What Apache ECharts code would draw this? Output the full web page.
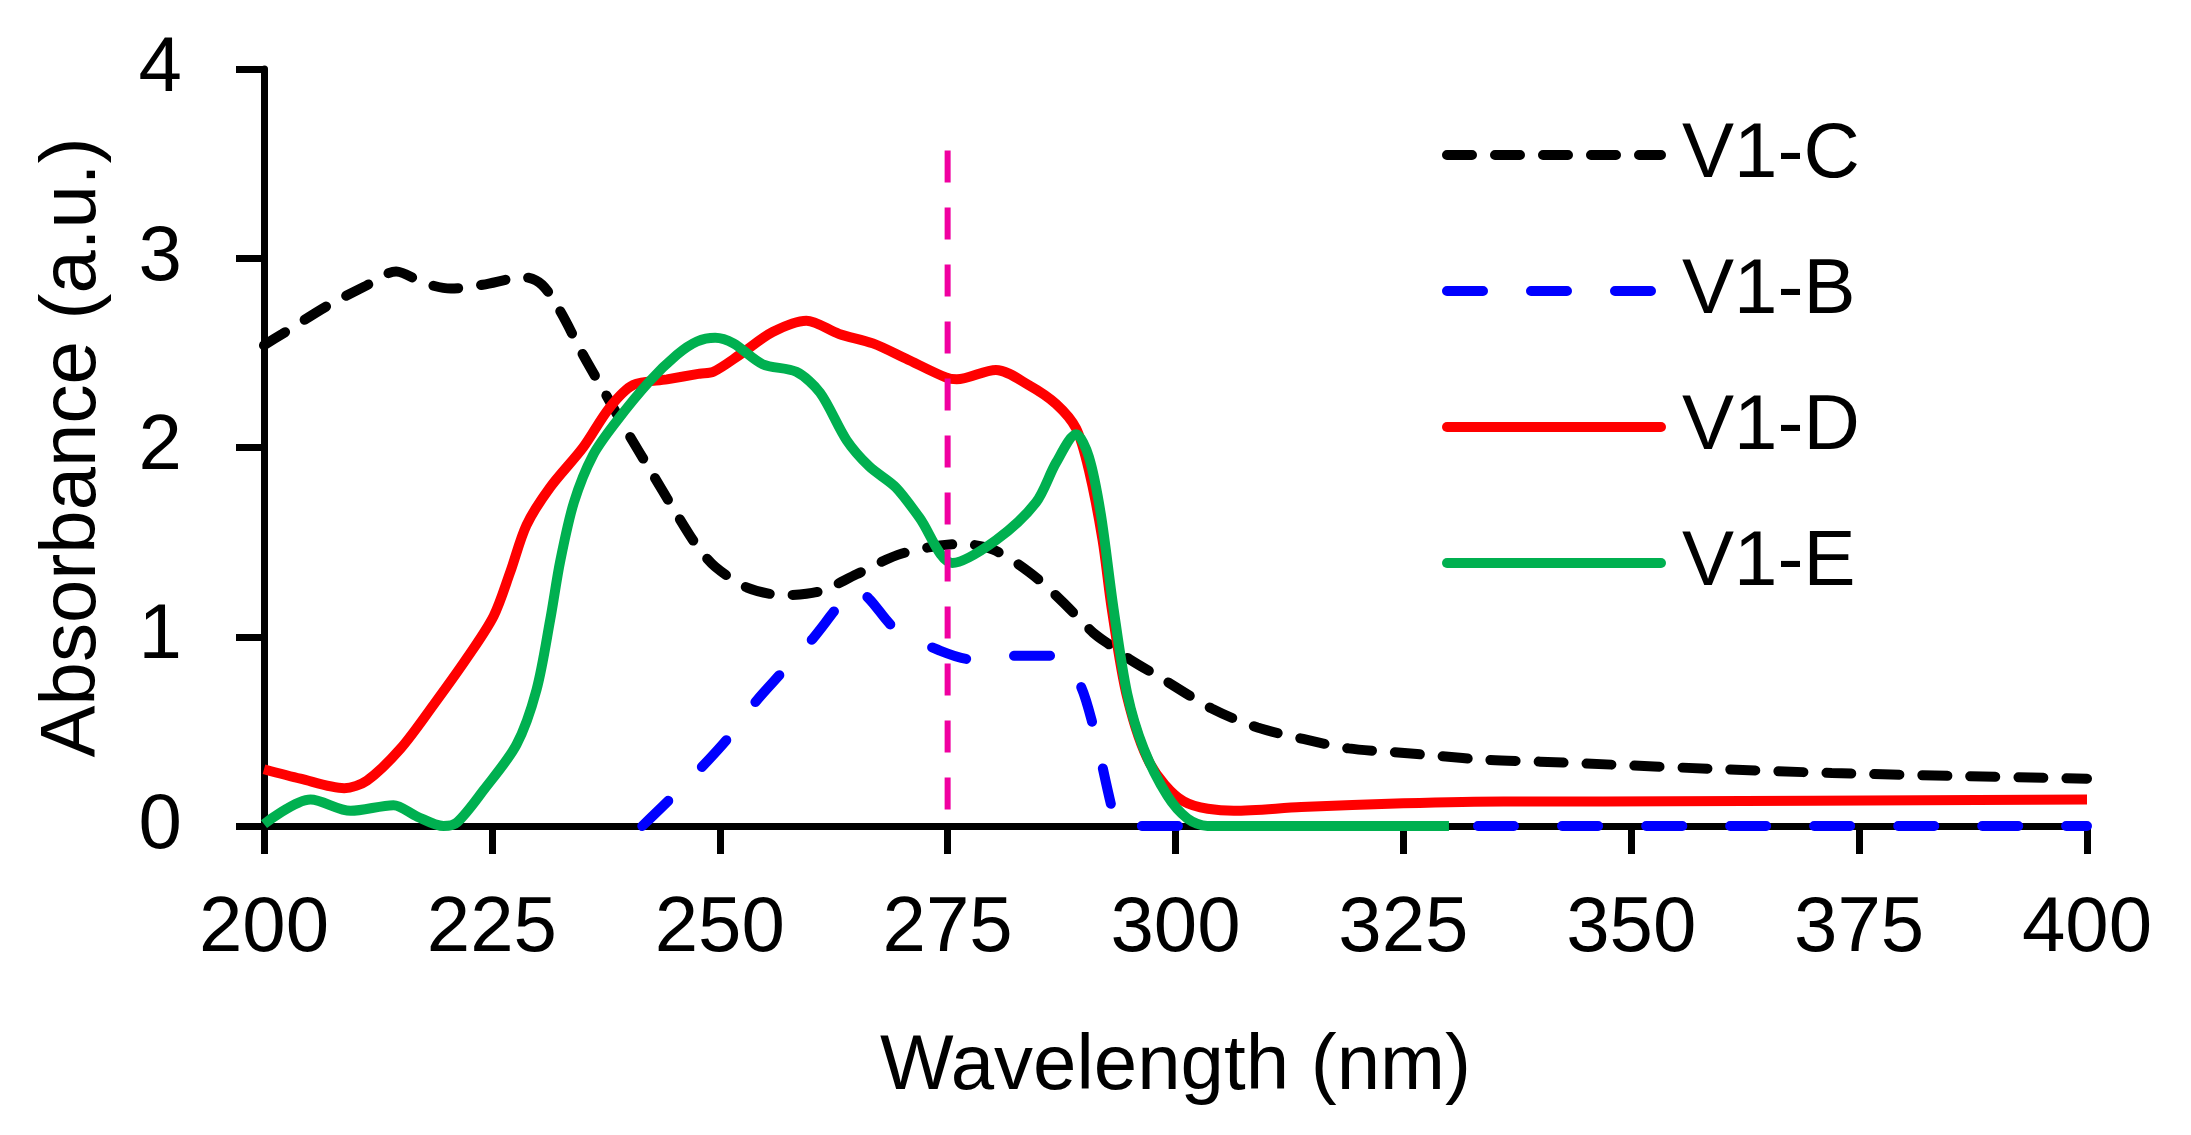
<!DOCTYPE html>
<html>
<head>
<meta charset="utf-8">
<title>Absorbance spectra</title>
<script src="https://cdn.jsdelivr.net/npm/echarts@6/dist/echarts.min.js"></script>
<style>
  html, body { margin: 0; padding: 0; background: #fff; }
  #chart { width: 2191px; height: 1135px; }
</style>
</head>
<body>
<div id="chart"></div>
<script>
// ---- data ----
const xTicks = [200, 225, 250, 275, 300, 325, 350, 375, 400];
const yTicks = [0, 1, 2, 3, 4];

const wlC  = [200, 202, 207, 211, 214.5, 217.5, 220.5, 224, 228.5, 230.5, 232.5, 235, 237.5, 240, 242.5, 245, 247.5, 249.5, 253, 257, 261, 265, 270, 276.5, 280, 284, 287.5, 291, 293, 295, 298.5, 304, 309, 314, 319, 324, 329, 334, 340, 345, 360, 372, 385, 400];
const absC = [2.54, 2.60, 2.75, 2.85, 2.93, 2.87, 2.84, 2.86, 2.90, 2.86, 2.72, 2.49, 2.28, 2.07, 1.87, 1.67, 1.48, 1.37, 1.26, 1.22, 1.24, 1.33, 1.44, 1.49, 1.46, 1.34, 1.19, 1.02, 0.95, 0.88, 0.78, 0.62, 0.52, 0.46, 0.41, 0.39, 0.37, 0.35, 0.34, 0.33, 0.30, 0.28, 0.265, 0.25];

const wlB  = [241.5, 244.5, 247.8, 251, 254, 256.6, 260.2, 262.8, 264.8, 266.4, 269.3, 274, 277.7, 282.8, 286.9, 289.4, 290.9, 293.1, 293.8, 400];
const absB = [0, 0.14, 0.30, 0.47, 0.66, 0.80, 0.99, 1.15, 1.26, 1.20, 1.04, 0.93, 0.88, 0.90, 0.90, 0.76, 0.54, 0.08, 0, 0];

const wlD  = [200, 204, 208.8, 211.3, 215, 218.6, 222.3, 225.2, 227, 228.8, 231.4, 235, 237.9, 240.5, 244.2, 247.8, 249.3, 252.2, 255.8, 259.5, 263.1, 266.8, 270.4, 274.8, 276, 280.3, 283.9, 286.9, 289.1, 290.5, 292, 293, 294.7, 297.2, 300.9, 306.4, 313.8, 325, 336, 347, 400];
const absD = [0.30, 0.25, 0.20, 0.24, 0.41, 0.64, 0.89, 1.11, 1.34, 1.59, 1.79, 2.00, 2.21, 2.33, 2.36, 2.39, 2.40, 2.49, 2.61, 2.67, 2.60, 2.55, 2.47, 2.37, 2.36, 2.41, 2.33, 2.23, 2.10, 1.88, 1.51, 1.15, 0.68, 0.33, 0.13, 0.08, 0.10, 0.12, 0.13, 0.13, 0.14];

const wlE  = [200, 205.1, 209.5, 214.2, 216.8, 219.7, 221.2, 224.1, 227.7, 229.9, 231.4, 232.5, 234, 236.1, 238.7, 242.3, 245.3, 247.5, 249.5, 251.5, 254.7, 258.4, 261, 263.9, 266.4, 269.3, 271.9, 275.5, 280.3, 284.7, 286.9, 289.1, 290.5, 291.8, 293.2, 294.7, 296.5, 299.1, 301.3, 303.5, 330];
const absE = [0.01, 0.14, 0.08, 0.11, 0.05, 0.0, 0.02, 0.19, 0.43, 0.72, 1.09, 1.40, 1.71, 1.96, 2.14, 2.35, 2.49, 2.56, 2.58, 2.55, 2.44, 2.40, 2.29, 2.04, 1.90, 1.79, 1.63, 1.39, 1.51, 1.71, 1.92, 2.07, 1.95, 1.65, 1.15, 0.70, 0.41, 0.16, 0.04, 0.0, 0.0];

// vertical marker at 275 nm (drawn top-down so the dash starts at the top)
const markX = [275, 275];
const markY = [3.57, 0];

function pairs(xs, ys) {
    return xs.map((x, i) => [x, ys[i]]);
}

const FONT = '"Liberation Sans", Arial, sans-serif';

const chart = echarts.init(document.getElementById('chart'));

chart.setOption({
    animation: false,
    backgroundColor: '#ffffff',
    grid: { left: 264, right: 104, top: 69, bottom: 309, containLabel: false },
    legend: {
        data: ['V1-C', 'V1-B', 'V1-D', 'V1-E'],
        orient: 'vertical',
        left: 1437,
        top: 111,
        itemWidth: 214,
        itemHeight: 20,
        itemGap: 58,
        itemStyle: { opacity: 0 },
        lineStyle: { width: 10, cap: 'round' },
        textStyle: { fontFamily: FONT, fontSize: 78, color: '#000', lineHeight: 78, padding: [0, 0, 0, 16] }
    },
    xAxis: {
        type: 'value',
        min: xTicks[0],
        max: xTicks[xTicks.length - 1],
        interval: 25,
        name: 'Wavelength (nm)',
        nameLocation: 'middle',
        nameGap: 202,
        nameTextStyle: { fontFamily: FONT, fontSize: 78, color: '#000' },
        axisLine: { onZero: false, lineStyle: { color: '#000', width: 7 } },
        axisTick: { show: true, inside: false, length: 28, lineStyle: { color: '#000', width: 7 } },
        axisLabel: { margin: 64, fontFamily: FONT, fontSize: 78, color: '#000' },
        splitLine: { show: false }
    },
    yAxis: {
        type: 'value',
        min: yTicks[0],
        max: yTicks[yTicks.length - 1],
        interval: 1,
        name: 'Absorbance (a.u.)',
        nameLocation: 'middle',
        nameGap: 152,
        nameTextStyle: { fontFamily: FONT, fontSize: 78, color: '#000' },
        axisLine: { show: true, lineStyle: { color: '#000', width: 7 } },
        axisTick: { show: true, inside: false, length: 28, lineStyle: { color: '#000', width: 7 } },
        axisLabel: { margin: 82, fontFamily: FONT, fontSize: 78, color: '#000' },
        splitLine: { show: false }
    },
    series: [
        {
            name: 'V1-C', type: 'line', data: pairs(wlC, absC),
            smooth: 0.3, symbol: 'none', z: 3,
            lineStyle: { color: '#000000', width: 10, type: [25, 23], cap: 'round' },
            itemStyle: { color: '#000000' }
        },
        {
            name: 'V1-B', type: 'line', data: pairs(wlB, absB),
            smooth: 0.3, symbol: 'none', z: 3,
            lineStyle: { color: '#0000FF', width: 10, type: [36, 48], cap: 'round' },
            itemStyle: { color: '#0000FF' }
        },
        {
            name: 'V1-D', type: 'line', data: pairs(wlD, absD),
            smooth: 0.3, symbol: 'none', z: 4,
            lineStyle: { color: '#FF0000', width: 10 },
            itemStyle: { color: '#FF0000' }
        },
        {
            name: 'V1-E', type: 'line', data: pairs(wlE, absE),
            smooth: 0.3, symbol: 'none', z: 5,
            lineStyle: { color: '#00B050', width: 10 },
            itemStyle: { color: '#00B050' }
        },
        {
            name: 'marker', type: 'line', data: pairs(markX, markY),
            symbol: 'none', z: 6, silent: true,
            lineStyle: { color: '#F000A0', width: 6, type: [32, 25] }
        }
    ]
});
</script>
</body>
</html>
